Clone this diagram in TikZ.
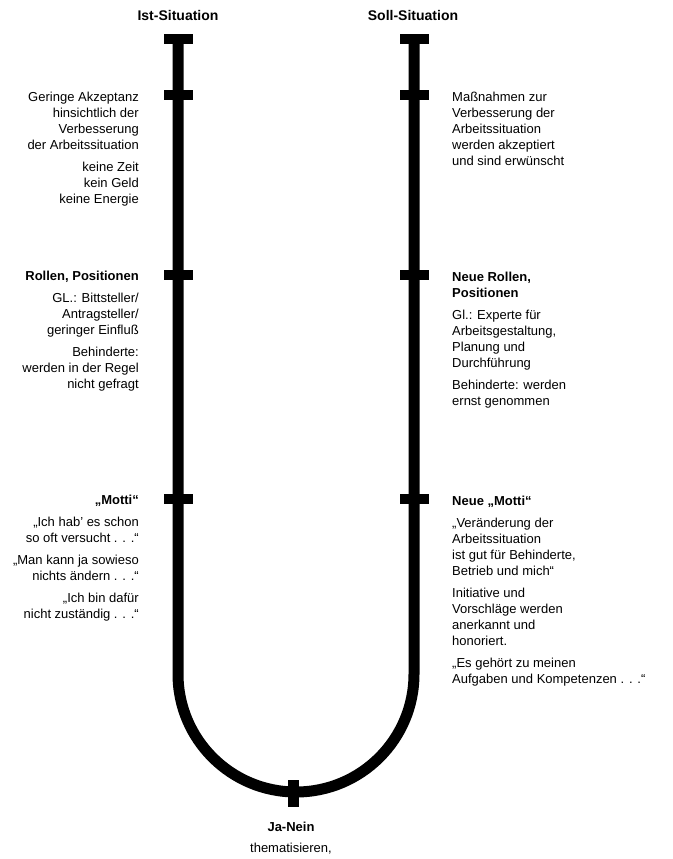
\documentclass[tikz,border=0pt]{standalone}
\usepackage{fontspec}
\setmainfont{Liberation Sans}
\usetikzlibrary{positioning}

\begin{document}
\begin{tikzpicture}[x=1pt,y=-1pt,inner sep=0pt,on grid,
	rail/.style={line width=11pt},
	tick/.style={fill=black,minimum width=29pt,minimum height=10pt},
	vtick/.style={fill=black,minimum width=11pt,minimum height=27pt},
	kopf/.style={font=\fontsize{14}{17}\selectfont\bfseries},
	links/.style={anchor=north east,align=right,font=\fontsize{13}{16}\selectfont},
	rechts/.style={anchor=north west,align=left,font=\fontsize{13}{16}\selectfont},
	mitte/.style={anchor=north,align=center,font=\fontsize{13}{16}\selectfont}]
	\useasboundingbox (0,0) rectangle (672,859);
	% Querbalken
	\node[tick] (istTop) at (178,39) {};
	\node[tick] (ist1) [below=56pt of istTop] {};
	\node[tick] (ist2) [below=180pt of ist1] {};
	\node[tick] (ist3) [below=224pt of ist2] {};
	\node[tick] (sollTop) [right=236pt of istTop] {};
	\node[tick] (soll1) [right=236pt of ist1] {};
	\node[tick] (soll2) [right=236pt of ist2] {};
	\node[tick] (soll3) [right=236pt of ist3] {};
	\coordinate (bogenL) at (178,674);
	\node[vtick] (jaNein) at (293,793) {};
	% U-Bahn
	\draw[rail] (istTop.center) -- (bogenL)
		arc[start angle=180,end angle=360,radius=118pt] -- (sollTop.center);
	% Ueberschriften
	\node[kopf] (ist) at (178,15) {Ist-Situation};
	\node[kopf] (soll) at (413,15) {Soll-Situation};
	% Ist-Seite
	\node[links] (akzeptanz) at (139,92) {Geringe Akzeptanz\\hinsichtlich der\\Verbesserung\\der Arbeitssituation\\[6pt]keine Zeit\\kein Geld\\keine Energie};
	\node[links] (rollen) at (139,271) {\textbf{Rollen, Positionen}\\[6pt]GL.: Bittsteller/\\Antragsteller/\\geringer Einfluß\\[6pt]Behinderte:\\werden in der Regel\\nicht gefragt};
	\node[links] (motti) at (139,495) {\textbf{„Motti“}\\[6pt]„Ich hab’ es schon\\so oft versucht . . .“\\[6pt]„Man kann ja sowieso\\nichts ändern . . .“\\[6pt]„Ich bin dafür\\nicht zuständig . . .“};
	% Soll-Seite
	\node[rechts] (massnahmen) at (452,92) {Maßnahmen zur\\Verbesserung der\\Arbeitssituation\\werden akzeptiert\\und sind erwünscht};
	\node[rechts] (neueRollen) at (452,272) {\textbf{Neue Rollen,}\\\textbf{Positionen}\\[6pt]Gl.: Experte für\\Arbeitsgestaltung,\\Planung und\\Durchführung\\[6pt]Behinderte: werden\\ernst genommen};
	\node[rechts] (neueMotti) at (452,496) {\textbf{Neue „Motti“}\\[6pt]„Veränderung der\\Arbeitssituation\\ist gut für Behinderte,\\Betrieb und mich“\\[6pt]Initiative und\\Vorschläge werden\\anerkannt und\\honoriert.\\[6pt]„Es gehört zu meinen\\Aufgaben und Kompetenzen . . .“};
	% unten
	\node[mitte] (jaNeinText) at (291,822) {\textbf{Ja-Nein}\\[5pt]thematisieren,};
\end{tikzpicture}
\end{document}
